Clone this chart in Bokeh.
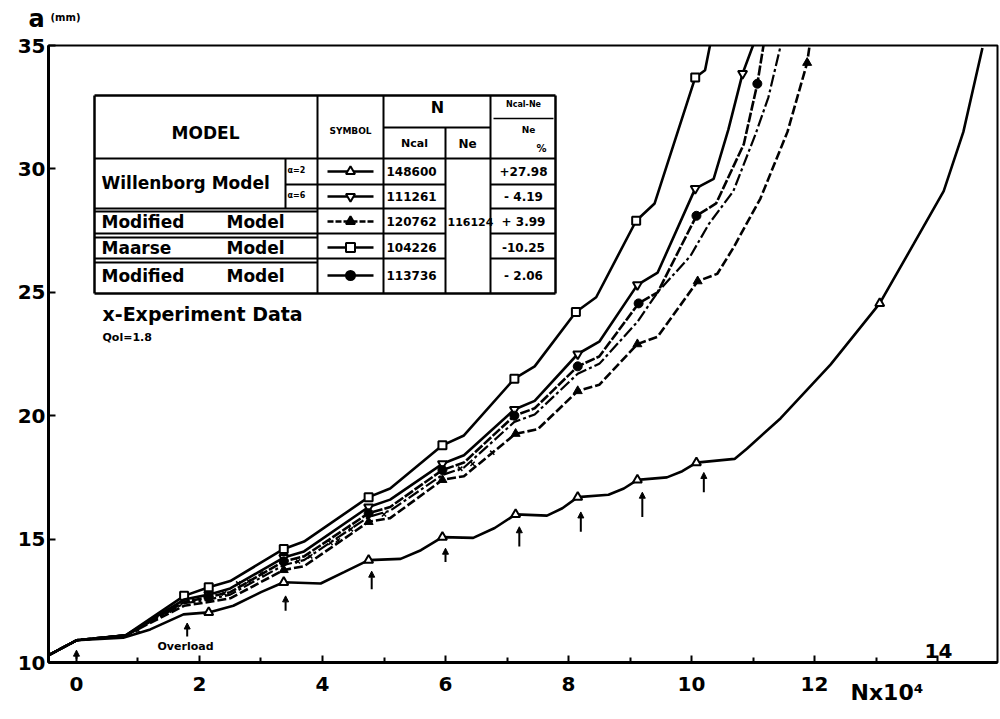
from bokeh.plotting import figure
from bokeh.models import Range1d, FixedTicker, Label, Arrow, NormalHead
from bokeh.embed import file_html
from bokeh.resources import INLINE
from bokeh.core.properties import value

# ---------------- data (N x 10^4 cycles, crack length a in mm) ----------------
maarse_n = [-0.45, 0.0, 0.8, 1.75, 2.15, 2.5, 3.37, 3.7, 4.75, 5.1, 5.95, 6.3, 7.12, 7.45, 8.12, 8.45, 9.1, 9.4, 10.06, 10.22, 10.3]
maarse_a = [10.3, 10.9, 11.1, 12.7, 13.05, 13.3, 14.6, 14.9, 16.7, 17.05, 18.8, 19.2, 21.5, 22.0, 24.2, 24.8, 27.9, 28.6, 33.7, 34.0, 35.0]
maarse_mk_n = [1.75, 2.15, 3.37, 4.75, 5.95, 7.12, 8.12, 9.1, 10.06]
maarse_mk_a = [12.7, 13.05, 14.6, 16.7, 18.8, 21.5, 24.2, 27.9, 33.7]

will6_n = [-0.45, 0.0, 0.8, 1.75, 2.15, 2.5, 3.37, 3.7, 4.75, 5.1, 5.95, 6.3, 7.12, 7.45, 8.15, 8.5, 9.12, 9.45, 10.06, 10.36, 10.6, 10.83, 11.0]
will6_a = [10.3, 10.9, 11.1, 12.55, 12.75, 13.0, 14.25, 14.5, 16.3, 16.6, 18.05, 18.4, 20.25, 20.6, 22.5, 23.0, 25.3, 25.8, 29.2, 29.6, 31.6, 33.86, 35.0]
will6_mk_n = [2.15, 3.37, 4.75, 5.95, 7.12, 8.15, 9.12, 10.06, 10.83]
will6_mk_a = [12.75, 14.25, 16.3, 18.05, 20.25, 22.5, 25.3, 29.2, 33.86]

modc_n = [-0.45, 0.0, 0.8, 1.75, 2.15, 2.5, 3.37, 3.7, 4.75, 5.1, 5.95, 6.3, 7.12, 7.45, 8.15, 8.5, 9.14, 9.45, 10.08, 10.4, 10.85, 11.07, 11.17]
modc_a = [10.3, 10.9, 11.1, 12.45, 12.65, 12.85, 14.1, 14.3, 16.05, 16.3, 17.8, 18.1, 20.0, 20.3, 22.0, 22.4, 24.55, 25.0, 28.1, 28.6, 31.0, 33.45, 35.0]
modc_mk_n = [2.15, 3.37, 4.75, 5.95, 7.12, 8.15, 9.14, 10.08, 11.07]
modc_mk_a = [12.65, 14.1, 16.05, 17.8, 20.0, 22.0, 24.55, 28.1, 33.45]

exp_curve_n = [-0.45, 0.0, 0.8, 1.75, 2.15, 2.5, 3.37, 3.7, 4.75, 5.1, 5.95, 6.3, 7.12, 7.45, 8.15, 8.5, 9.12, 9.46, 9.98, 10.28, 10.68, 11.04, 11.25, 11.45]
exp_curve_a = [10.3, 10.9, 11.1, 12.4, 12.55, 12.75, 13.95, 14.15, 15.9, 16.15, 17.6, 17.9, 19.75, 20.05, 21.7, 22.1, 23.8, 25.04, 26.46, 27.76, 29.1, 31.4, 32.9, 35.0]
exp_pts_n = [1.0, 1.5, 2.4, 2.63, 2.8, 3.0, 3.6, 3.8, 4.13, 4.25, 4.46, 5.0, 6.24, 6.44, 6.76]
exp_pts_a = [11.3, 12.1, 12.8, 13.2, 13.3, 13.6, 14.1, 14.3, 14.85, 14.95, 15.4, 16.0, 17.85, 18.05, 18.5]

modt_n = [-0.45, 0.0, 0.8, 1.75, 2.15, 2.5, 3.37, 3.7, 4.75, 5.1, 5.95, 6.3, 7.14, 7.5, 8.15, 8.5, 9.12, 9.45, 10.1, 10.42, 10.68, 11.12, 11.56, 11.88, 11.92]
modt_a = [10.3, 10.9, 11.1, 12.3, 12.45, 12.6, 13.75, 13.9, 15.7, 15.85, 17.4, 17.55, 19.27, 19.45, 21.0, 21.25, 22.9, 23.2, 25.45, 25.75, 26.8, 28.8, 31.5, 34.3, 35.0]
modt_mk_n = [3.37, 4.75, 5.95, 7.14, 8.15, 9.12, 10.1, 11.88]
modt_mk_a = [13.75, 15.7, 17.4, 19.27, 21.0, 22.9, 25.45, 34.3]

will2_n = [-0.45, 0.0, 0.76, 1.2, 1.74, 2.15, 2.55, 3.0, 3.37, 3.97, 4.35, 4.75, 5.27, 5.6, 5.95, 6.45, 6.8, 7.14, 7.65, 7.9, 8.15, 8.65, 8.9, 9.12, 9.6, 9.85, 10.08, 10.7, 10.9, 11.45, 12.26, 13.06, 13.61, 14.1, 14.42, 14.73]
will2_a = [10.3, 10.9, 11.0, 11.34, 11.95, 12.03, 12.3, 12.85, 13.25, 13.2, 13.66, 14.15, 14.2, 14.55, 15.08, 15.05, 15.45, 16.0, 15.95, 16.25, 16.7, 16.8, 17.05, 17.4, 17.5, 17.75, 18.1, 18.25, 18.66, 19.9, 22.07, 24.55, 26.95, 29.1, 31.5, 34.9]
will2_mk_n = [2.15, 3.37, 4.75, 5.95, 7.14, 8.15, 9.12, 10.08, 13.06]
will2_mk_a = [12.03, 13.25, 14.15, 15.08, 16.0, 16.7, 17.4, 18.1, 24.55]

overload_n = [0.0, 1.8, 3.4, 4.8, 6.0, 7.2, 8.2, 9.2, 10.2]
arrow_tail_a = [10.15, 11.05, 12.1, 12.97, 14.07, 14.7, 15.3, 15.9, 16.9]
arrow_tip_a = [10.5, 11.6, 12.7, 13.7, 14.63, 15.5, 16.1, 16.9, 17.7]

x_ticks = [0, 2, 4, 6, 8, 10, 12, 14]
x_minor = [-0.455, 1, 3, 5, 7, 9, 11, 13]
y_ticks = [10, 15, 20, 25, 30, 35]

table_models = ["Willenborg  Model", "Modified", "Maarse", "Modified"]
table_ncal = ["148600", "111261", "120762", "104226", "113736"]
table_ne = "116124"
table_pct = ["+27.98", "- 4.19", "+ 3.99", "-10.25", "- 2.06"]

# ---------------- figure ----------------
X0, X1, Y0, Y1 = -0.455, 14.975, 10.0, 35.0
FL, FR, FT, FB = 48, 997, 45, 662  # frame in reference pixels
W, H = 999, 719


def nx(px):
    return X0 + (px - FL) / (FR - FL) * (X1 - X0)


def ay(py):
    return Y1 - (py - FT) / (FB - FT) * (Y1 - Y0)


FONT = "DejaVu Sans"
p = figure(width=W, height=H, x_range=Range1d(X0, X1), y_range=Range1d(Y0, Y1),
           output_backend="svg", toolbar_location=None,
           min_border_left=FL, min_border_right=W - FR, min_border_top=FT, min_border_bottom=H - FB)
p.grid.visible = False
p.outline_line_color = "black"
p.outline_line_width = 2
p.background_fill_color = "white"
p.border_fill_color = "white"

for ax in (p.xaxis[0], p.yaxis[0]):
    ax.axis_line_width = 3
    ax.major_tick_in = 7
    ax.major_tick_out = 0
    ax.minor_tick_in = 5
    ax.minor_tick_out = 0
    ax.major_tick_line_width = 2
    ax.minor_tick_line_width = 2
    ax.major_label_text_font = FONT
    ax.major_label_text_font_style = "bold"
    ax.major_label_text_font_size = "20px"
    ax.major_label_text_color = "black"

p.xaxis.ticker = FixedTicker(ticks=x_ticks, minor_ticks=x_minor)
p.xaxis.major_label_overrides = {14: ""}
p.xaxis.major_label_standoff = 14
p.yaxis.ticker = FixedTicker(ticks=y_ticks, minor_ticks=[])
p.yaxis.major_label_standoff = 3

# ---------------- curves ----------------
LW = 2.6
p.line(maarse_n, maarse_a, line_color="black", line_width=LW)
p.scatter(maarse_mk_n, maarse_mk_a, marker="square", size=8, fill_color="white", line_color="black", line_width=2)

p.line(will6_n, will6_a, line_color="black", line_width=LW)
p.scatter(will6_mk_n, will6_mk_a, marker="inverted_triangle", size=9, fill_color="white", line_color="black", line_width=2)

p.line(modc_n, modc_a, line_color="black", line_width=LW, line_dash="10 2")
p.scatter(modc_mk_n, modc_mk_a, marker="circle", size=9, fill_color="black", line_color="black")

p.line(exp_curve_n, exp_curve_a, line_color="black", line_width=2.2, line_dash="12 3 3 3")
p.scatter(exp_pts_n, exp_pts_a, marker="x", size=6, line_color="black", line_width=1.5)

p.line(modt_n, modt_a, line_color="black", line_width=LW, line_dash="9 3")
p.scatter(modt_mk_n, modt_mk_a, marker="triangle", size=9, fill_color="black", line_color="black")

p.line(will2_n, will2_a, line_color="black", line_width=LW)
p.scatter(will2_mk_n, will2_mk_a, marker="triangle", size=9, fill_color="white", line_color="black", line_width=2)

# overload arrows
for n, a0, a1 in zip(overload_n, arrow_tail_a, arrow_tip_a):
    p.add_layout(Arrow(end=NormalHead(size=6, fill_color="black", line_color="black"),
                       x_start=n, y_start=a0, x_end=n, y_end=a1,
                       line_color="black", line_width=2))

# ---------------- table ----------------
def hline(y, xa, xb, w=2):
    p.segment(x0=[nx(xa)], y0=[ay(y)], x1=[nx(xb)], y1=[ay(y)], line_color="black", line_width=w)


def vline(x, ya, yb, w=2):
    p.segment(x0=[nx(x)], y0=[ay(ya)], x1=[nx(x)], y1=[ay(yb)], line_color="black", line_width=w)


def txt(x, y, s, size, align="left", bold=True):
    p.text(x=[nx(x)], y=[ay(y)], text=[s], text_font=value(FONT), text_font_size=size,
           text_align=align, text_baseline="middle", text_color="black",
           text_font_style="bold" if bold else "normal")


# outer frame
hline(95, 94, 555, 2.5)
hline(293, 94, 555, 2.5)
vline(94, 95, 293, 2.5)
vline(555, 95, 293, 2.5)
# columns
vline(317, 95, 293)
vline(383, 95, 293)
vline(445, 127, 293)
vline(490, 95, 293)
vline(285, 158, 208)
# rows
hline(158, 94, 555)
hline(127, 383, 490)
hline(118, 493, 553, 1.5)
hline(184, 285, 445)
hline(184, 490, 555)
for yy in (208, 233, 258):
    hline(yy, 94, 445)
    hline(yy, 490, 555)
for yy in (211, 237, 262):
    hline(yy, 94, 317)

# header
txt(205, 132, "MODEL", "17px", "center")
txt(350, 130, "SYMBOL", "9px", "center")
txt(437, 107, "N", "16px", "center")
txt(414, 143, "Ncal", "11px", "center")
txt(467, 143, "Ne", "12px", "center")
txt(523, 104, "Ncal-Ne", "8px", "center")
txt(528, 129, "Ne", "9px", "center")
txt(541, 148, "%", "10px", "center")

# model names
txt(101, 182, table_models[0], "17px")
txt(287, 170, "α=2", "8px")
txt(287, 195, "α=6", "8px")
row_y = [221, 247, 275]
for name, yy in zip(table_models[1:], row_y):
    txt(101, yy, name, "17px")
    txt(226, yy, "Model", "17px")

# symbols
sym_y = [171, 196, 221, 247, 275]
sym_marker = ["triangle", "inverted_triangle", "triangle", "square", "circle"]
sym_fill = ["white", "white", "black", "white", "black"]
sym_dash = ["solid", "solid", "6 2", "solid", "solid"]
for yy, mk, fc, ds in zip(sym_y, sym_marker, sym_fill, sym_dash):
    p.segment(x0=[nx(327)], y0=[ay(yy)], x1=[nx(373)], y1=[ay(yy)], line_color="black",
              line_width=2.5, line_dash=ds)
    p.scatter([nx(350)], [ay(yy)], marker=mk, size=9, fill_color=fc, line_color="black", line_width=2)

for s, yy in zip(table_ncal, sym_y):
    txt(386, yy, s, "12px")
txt(447, 221, table_ne, "11px")
for s, yy in zip(table_pct, sym_y):
    txt(523, yy, s, "12px", "center")

txt(102, 313, "x-Experiment  Data", "19px")
txt(102, 337, "Qol=1.8", "11px")
txt(157, 646, "Overload", "11px")
txt(938, 650, "14", "20px", "center")


# axis titles outside the frame: labels placed in the side panels
# (screen y is measured from the bottom of each label's own stacked panel)
def slab(side, sx, sy, s, size):
    p.add_layout(Label(x=sx, y=sy, x_units="screen", y_units="screen", text=s,
                       text_font=FONT, text_font_size=size, text_font_style="bold",
                       text_color="black", text_baseline="middle", text_align="left"), side)


slab("above", 28 - FL, 27, "a", "24px")
slab("above", 50 - FL, 0, "(mm)", "10px")
slab("below", 850 - FL, 26, "Nx10⁴", "22px")

open("out.html", "w").write(file_html(p, INLINE))
